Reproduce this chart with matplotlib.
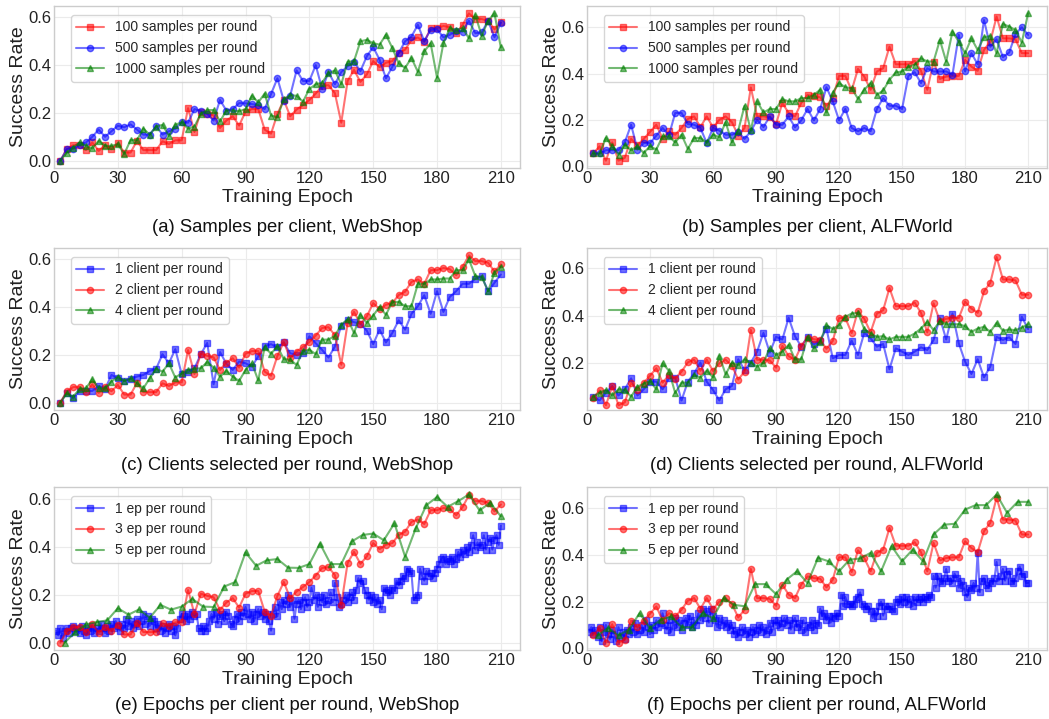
import numpy as np
import matplotlib.pyplot as plt

plt.style.use('seaborn-v0_8-whitegrid')
plt.rcParams['font.family'] = ['Liberation Sans', 'DejaVu Sans']

epochs3 = np.arange(3, 211, 3)
epochs1 = np.arange(1, 211)
epochs5 = np.arange(5, 211, 5)

# shared baseline runs (100 samples / 2 clients / 3 ep)
webshop_base = [0.0, 0.048, 0.065, 0.065, 0.044, 0.076, 0.041, 0.065, 0.048, 0.074,
                0.034, 0.034, 0.083, 0.044, 0.044, 0.044, 0.081, 0.07, 0.085, 0.085,
                0.22, 0.12, 0.205, 0.196, 0.19, 0.137, 0.168, 0.186, 0.147, 0.205,
                0.216, 0.216, 0.13, 0.113, 0.196, 0.254, 0.186, 0.214, 0.233, 0.254,
                0.281, 0.313, 0.316, 0.283, 0.159, 0.334, 0.38, 0.33, 0.361, 0.417,
                0.392, 0.41, 0.417, 0.451, 0.465, 0.506, 0.516, 0.497, 0.555, 0.555,
                0.564, 0.559, 0.534, 0.568, 0.617, 0.593, 0.593, 0.586, 0.55, 0.579]
alfworld_base = [0.055, 0.086, 0.024, 0.103, 0.024, 0.036, 0.118, 0.09, 0.118, 0.148,
                 0.179, 0.119, 0.15, 0.136, 0.165, 0.204, 0.215, 0.169, 0.215, 0.168,
                 0.2, 0.215, 0.19, 0.132, 0.165, 0.34, 0.215, 0.215, 0.212, 0.182,
                 0.273, 0.23, 0.215, 0.273, 0.308, 0.301, 0.298, 0.261, 0.294, 0.39,
                 0.39, 0.327, 0.42, 0.387, 0.33, 0.409, 0.423, 0.516, 0.44, 0.44,
                 0.44, 0.455, 0.412, 0.33, 0.452, 0.377, 0.387, 0.39, 0.39, 0.459,
                 0.43, 0.412, 0.502, 0.538, 0.646, 0.552, 0.552, 0.548, 0.488, 0.488]

# (a) / (b) samples per round
ws_500 = [0.0, 0.048, 0.05, 0.065, 0.076, 0.1, 0.13, 0.1, 0.123, 0.146,
          0.14, 0.152, 0.13, 0.109, 0.109, 0.145, 0.109, 0.123, 0.134, 0.161,
          0.159, 0.216, 0.208, 0.196, 0.168, 0.254, 0.21, 0.216, 0.241, 0.24,
          0.237, 0.233, 0.216, 0.279, 0.345, 0.251, 0.272, 0.378, 0.334, 0.334,
          0.4, 0.3, 0.371, 0.32, 0.371, 0.396, 0.414, 0.375, 0.437, 0.476,
          0.423, 0.345, 0.393, 0.451, 0.5, 0.52, 0.569, 0.5, 0.548, 0.55,
          0.517, 0.527, 0.545, 0.541, 0.586, 0.534, 0.537, 0.586, 0.517, 0.578]
ws_1000 = [0.0, 0.034, 0.055, 0.076, 0.062, 0.051, 0.083, 0.062, 0.062, 0.069,
           0.028, 0.086, 0.086, 0.134, 0.109, 0.143, 0.15, 0.103, 0.15, 0.161,
           0.134, 0.143, 0.196, 0.212, 0.212, 0.164, 0.21, 0.21, 0.207, 0.216,
           0.272, 0.244, 0.281, 0.189, 0.182, 0.258, 0.274, 0.272, 0.247, 0.3,
           0.32, 0.327, 0.366, 0.378, 0.32, 0.414, 0.417, 0.5, 0.506, 0.492,
           0.486, 0.527, 0.472, 0.407, 0.389, 0.43, 0.372, 0.458, 0.492, 0.348,
           0.492, 0.555, 0.548, 0.555, 0.513, 0.61, 0.523, 0.586, 0.617, 0.474]
af_500 = [0.055, 0.055, 0.069, 0.069, 0.069, 0.103, 0.179, 0.072, 0.1, 0.1,
          0.132, 0.165, 0.133, 0.23, 0.23, 0.182, 0.179, 0.165, 0.1, 0.165,
          0.154, 0.136, 0.136, 0.146, 0.118, 0.151, 0.2, 0.169, 0.215, 0.179,
          0.179, 0.215, 0.168, 0.198, 0.247, 0.198, 0.247, 0.341, 0.28, 0.198,
          0.248, 0.165, 0.151, 0.165, 0.151, 0.247, 0.294, 0.261, 0.261, 0.247,
          0.39, 0.406, 0.359, 0.423, 0.409, 0.409, 0.409, 0.395, 0.567, 0.409,
          0.488, 0.44, 0.631, 0.516, 0.548, 0.471, 0.491, 0.571, 0.6, 0.567]
af_1000 = [0.055, 0.055, 0.122, 0.086, 0.05, 0.093, 0.069, 0.086, 0.057, 0.086,
           0.072, 0.129, 0.129, 0.103, 0.136, 0.075, 0.122, 0.122, 0.103, 0.136,
           0.126, 0.19, 0.103, 0.154, 0.261, 0.155, 0.28, 0.232, 0.247, 0.247,
           0.29, 0.28, 0.28, 0.294, 0.294, 0.308, 0.33, 0.232, 0.318, 0.359,
           0.341, 0.337, 0.291, 0.33, 0.359, 0.308, 0.327, 0.373, 0.405, 0.409,
           0.43, 0.438, 0.466, 0.452, 0.452, 0.545, 0.452, 0.581, 0.538, 0.488,
           0.552, 0.502, 0.557, 0.562, 0.488, 0.614, 0.603, 0.588, 0.534, 0.66]

# (c) / (d) clients per round
ws_1client = [0.0, 0.042, 0.018, 0.05, 0.049, 0.049, 0.07, 0.057, 0.116, 0.102,
              0.091, 0.1, 0.109, 0.116, 0.133, 0.142, 0.203, 0.165, 0.224, 0.119,
              0.128, 0.144, 0.203, 0.25, 0.077, 0.212, 0.163, 0.137, 0.172, 0.165,
              0.151, 0.194, 0.236, 0.245, 0.231, 0.252, 0.207, 0.2, 0.207, 0.278,
              0.249, 0.221, 0.189, 0.235, 0.323, 0.348, 0.337, 0.331, 0.302, 0.245,
              0.306, 0.252, 0.292, 0.345, 0.306, 0.372, 0.404, 0.45, 0.372, 0.467,
              0.38, 0.443, 0.467, 0.498, 0.498, 0.519, 0.53, 0.467, 0.502, 0.537]
ws_4client = [0.0, 0.039, 0.025, 0.057, 0.06, 0.098, 0.06, 0.06, 0.088, 0.109,
              0.091, 0.102, 0.081, 0.06, 0.102, 0.142, 0.13, 0.165, 0.105, 0.123,
              0.137, 0.142, 0.144, 0.17, 0.147, 0.109, 0.133, 0.109, 0.091, 0.137,
              0.165, 0.093, 0.233, 0.205, 0.236, 0.182, 0.18, 0.158, 0.217, 0.222,
              0.203, 0.264, 0.264, 0.28, 0.326, 0.35, 0.292, 0.368, 0.334, 0.365,
              0.401, 0.368, 0.422, 0.422, 0.404, 0.404, 0.498, 0.498, 0.516, 0.516,
              0.52, 0.52, 0.555, 0.555, 0.6, 0.53, 0.527, 0.467, 0.544, 0.57]
af_1client = [0.06, 0.044, 0.077, 0.105, 0.065, 0.091, 0.137, 0.065, 0.091, 0.123,
              0.123, 0.091, 0.137, 0.14, 0.044, 0.123, 0.158, 0.203, 0.123, 0.088,
              0.044, 0.091, 0.105, 0.217, 0.172, 0.203, 0.249, 0.328, 0.245, 0.311,
              0.3, 0.391, 0.314, 0.27, 0.311, 0.279, 0.295, 0.346, 0.221, 0.235,
              0.235, 0.295, 0.235, 0.328, 0.305, 0.27, 0.281, 0.175, 0.263, 0.249,
              0.235, 0.249, 0.267, 0.256, 0.298, 0.391, 0.3, 0.409, 0.284, 0.207,
              0.155, 0.217, 0.141, 0.186, 0.311, 0.298, 0.309, 0.281, 0.395, 0.344]
af_4client = [0.06, 0.077, 0.088, 0.065, 0.091, 0.088, 0.06, 0.102, 0.114, 0.126,
              0.091, 0.2, 0.169, 0.075, 0.119, 0.119, 0.151, 0.14, 0.169, 0.141,
              0.231, 0.154, 0.203, 0.193, 0.217, 0.203, 0.186, 0.203, 0.263, 0.235,
              0.249, 0.277, 0.217, 0.217, 0.311, 0.263, 0.291, 0.36, 0.344, 0.36,
              0.395, 0.409, 0.412, 0.344, 0.325, 0.311, 0.314, 0.3, 0.311, 0.311,
              0.311, 0.325, 0.346, 0.374, 0.339, 0.378, 0.364, 0.364, 0.364, 0.356,
              0.332, 0.346, 0.353, 0.332, 0.37, 0.337, 0.342, 0.339, 0.35, 0.364]

# (e) / (f) local epochs per round
ws_1ep = [0.05, 0.03, 0.06, 0.02, 0.05, 0.06, 0.04, 0.06, 0.07, 0.05,
          0.06, 0.04, 0.07, 0.05, 0.03, 0.06, 0.05, 0.07, 0.04, 0.06,
          0.05, 0.08, 0.06, 0.04, 0.07, 0.05, 0.08, 0.06, 0.09, 0.07,
          0.05, 0.08, 0.06, 0.10, 0.07, 0.09, 0.06, 0.08, 0.10, 0.07,
          0.09, 0.12, 0.08, 0.11, 0.07, 0.10, 0.09, 0.06, 0.08, 0.05,
          0.07, 0.04, 0.06, 0.08, 0.05, 0.07, 0.03, 0.06, 0.10, 0.12,
          0.11, 0.09, 0.12, 0.10, 0.13, 0.11, 0.12, 0.06, 0.05, 0.07,
          0.05, 0.06, 0.09, 0.12, 0.10, 0.13, 0.08, 0.11, 0.12, 0.09,
          0.13, 0.11, 0.08, 0.07, 0.10, 0.12, 0.09, 0.13, 0.11, 0.15,
          0.12, 0.10, 0.13, 0.09, 0.12, 0.14, 0.11, 0.13, 0.10, 0.12,
          0.09, 0.05, 0.12, 0.15, 0.11, 0.17, 0.14, 0.18, 0.16, 0.20,
          0.15, 0.18, 0.10, 0.16, 0.18, 0.14, 0.17, 0.19, 0.15, 0.17,
          0.23, 0.18, 0.20, 0.15, 0.19, 0.17, 0.20, 0.16, 0.18, 0.21,
          0.17, 0.25, 0.19, 0.15, 0.16, 0.18, 0.20, 0.17, 0.19, 0.21,
          0.18, 0.22, 0.27, 0.25, 0.26, 0.22, 0.20, 0.18, 0.20, 0.17,
          0.19, 0.16, 0.18, 0.14, 0.23, 0.21, 0.22, 0.20, 0.23, 0.22,
          0.26, 0.24, 0.26, 0.28, 0.27, 0.31, 0.30, 0.29, 0.18, 0.19,
          0.20, 0.31, 0.28, 0.26, 0.30, 0.28, 0.29, 0.27, 0.29, 0.31,
          0.33, 0.35, 0.36, 0.33, 0.35, 0.34, 0.36, 0.33, 0.35, 0.38,
          0.36, 0.39, 0.37, 0.40, 0.38, 0.41, 0.45, 0.39, 0.42, 0.40,
          0.41, 0.45, 0.39, 0.42, 0.44, 0.39, 0.43, 0.45, 0.41, 0.49]
ws_5ep = [0.0, 0.044, 0.076, 0.086, 0.093, 0.144, 0.117, 0.139, 0.104, 0.158,
          0.138, 0.151, 0.183, 0.151, 0.149, 0.235, 0.253, 0.378, 0.322, 0.345,
          0.35, 0.314, 0.313, 0.329, 0.415, 0.329, 0.329, 0.424, 0.451, 0.457,
          0.429, 0.5, 0.36, 0.479, 0.576, 0.61, 0.569, 0.593, 0.621, 0.554,
          0.586, 0.529]
af_1ep = [0.07, 0.09, 0.06, 0.08, 0.05, 0.09, 0.03, 0.07, 0.10, 0.06,
          0.04, 0.08, 0.06, 0.03, 0.09, 0.05, 0.07, 0.04, 0.08, 0.06,
          0.09, 0.07, 0.11, 0.06, 0.08, 0.10, 0.07, 0.12, 0.09, 0.06,
          0.10, 0.08, 0.12, 0.09, 0.11, 0.15, 0.10, 0.08, 0.12, 0.07,
          0.10, 0.13, 0.09, 0.12, 0.08, 0.11, 0.13, 0.10, 0.14, 0.09,
          0.12, 0.10, 0.15, 0.12, 0.17, 0.13, 0.16, 0.11, 0.17, 0.14,
          0.12, 0.09, 0.13, 0.10, 0.12, 0.09, 0.11, 0.08, 0.10, 0.06,
          0.08, 0.05, 0.07, 0.09, 0.06, 0.08, 0.05, 0.07, 0.09, 0.06,
          0.08, 0.10, 0.07, 0.09, 0.06, 0.08, 0.11, 0.07, 0.12, 0.10,
          0.12, 0.09, 0.11, 0.13, 0.10, 0.12, 0.08, 0.11, 0.13, 0.09,
          0.11, 0.08, 0.12, 0.07, 0.10, 0.09, 0.12, 0.08, 0.11, 0.10,
          0.17, 0.14, 0.15, 0.12, 0.14, 0.11, 0.14, 0.13, 0.15, 0.14,
          0.23, 0.18, 0.22, 0.19, 0.19, 0.18, 0.19, 0.21, 0.22, 0.24,
          0.19, 0.18, 0.17, 0.18, 0.16, 0.13, 0.16, 0.14, 0.18, 0.20,
          0.14, 0.18, 0.17, 0.18, 0.17, 0.16, 0.20, 0.21, 0.19, 0.22,
          0.20, 0.22, 0.19, 0.21, 0.18, 0.22, 0.20, 0.21, 0.22, 0.20,
          0.22, 0.21, 0.23, 0.22, 0.31, 0.26, 0.31, 0.29, 0.28, 0.30,
          0.34, 0.29, 0.30, 0.28, 0.32, 0.30, 0.26, 0.29, 0.27, 0.24,
          0.22, 0.26, 0.25, 0.28, 0.26, 0.41, 0.24, 0.29, 0.30, 0.27,
          0.26, 0.29, 0.28, 0.30, 0.37, 0.29, 0.31, 0.34, 0.29, 0.32,
          0.33, 0.29, 0.28, 0.30, 0.33, 0.35, 0.31, 0.32, 0.28, 0.28]
af_5ep = [0.055, 0.086, 0.055, 0.08, 0.15, 0.086, 0.122, 0.136, 0.09, 0.09,
          0.15, 0.129, 0.215, 0.186, 0.18, 0.275, 0.275, 0.232, 0.294, 0.33,
          0.28, 0.388, 0.373, 0.33, 0.38, 0.385, 0.409, 0.33, 0.438, 0.373,
          0.423, 0.373, 0.488, 0.53, 0.534, 0.595, 0.614, 0.614, 0.66, 0.581,
          0.628, 0.628]

W, H = 1049, 719
fig = plt.figure(figsize=(W / 100, H / 100), dpi=100)


def add_ax(left, top, right, bottom):
    return fig.add_axes([left / W, 1 - bottom / H, (right - left) / W, (bottom - top) / H])


def draw(ax, series, caption, cap_y, yticks=(0.0, 0.2, 0.4, 0.6), ylim=None):
    for x, y, color, marker, label in series:
        ax.plot(x, y, color=color, marker=marker, ms=4.5, lw=1.5, alpha=0.55, label=label)
    ax.set_xticks(np.arange(0, 211, 30))
    ax.set_yticks(list(yticks))
    ax.set_xlim(0, 219)
    if ylim is not None:
        ax.set_ylim(*ylim)
    ax.tick_params(labelsize=12, colors='#222222', pad=2)
    ax.grid(color='#ebebeb', lw=0.8)
    for sp in ax.spines.values():
        sp.set_color('#cccccc')
    ax.set_xlabel('Training Epoch', fontsize=14, color='#222222', labelpad=2)
    ax.set_ylabel('Success Rate', fontsize=14, color='#222222', labelpad=1)
    pos = ax.get_position()
    leg = ax.legend(loc='upper left', bbox_to_anchor=(0.036, 0.945), borderaxespad=0,
                    fontsize=10, frameon=True, fancybox=True)
    leg.get_frame().set_edgecolor('#cccccc')
    fig.text(pos.x0 + pos.width / 2, 1 - cap_y / H, caption, ha='center', va='center',
             fontsize=13.3, color='#111111')


rows = [(6, 168), (248, 410), (487, 650)]
cols = [(54, 520), (587, 1047)]
cap_ys = [228, 465, 705]

ax = add_ax(cols[0][0], rows[0][0], cols[0][1], rows[0][1])
draw(ax, [(epochs3, webshop_base, 'red', 's', '100 samples per round'),
          (epochs3, ws_500, 'blue', 'o', '500 samples per round'),
          (epochs3, ws_1000, 'green', '^', '1000 samples per round')],
     '(a) Samples per client, WebShop', cap_ys[0])

ax = add_ax(cols[1][0], rows[0][0], cols[1][1], rows[0][1])
draw(ax, [(epochs3, alfworld_base, 'red', 's', '100 samples per round'),
          (epochs3, af_500, 'blue', 'o', '500 samples per round'),
          (epochs3, af_1000, 'green', '^', '1000 samples per round')],
     '(b) Samples per client, ALFWorld', cap_ys[0])

ax = add_ax(cols[0][0], rows[1][0], cols[0][1], rows[1][1])
draw(ax, [(epochs3, ws_1client, 'blue', 's', '1 client per round'),
          (epochs3, webshop_base, 'red', 'o', '2 client per round'),
          (epochs3, ws_4client, 'green', '^', '4 client per round')],
     '(c) Clients selected per round, WebShop', cap_ys[1])

ax = add_ax(cols[1][0], rows[1][0], cols[1][1], rows[1][1])
draw(ax, [(epochs3, af_1client, 'blue', 's', '1 client per round'),
          (epochs3, alfworld_base, 'red', 'o', '2 client per round'),
          (epochs3, af_4client, 'green', '^', '4 client per round')],
     '(d) Clients selected per round, ALFWorld', cap_ys[1],
     yticks=(0.2, 0.4, 0.6), ylim=(0.004, 0.684))

ax = add_ax(cols[0][0], rows[2][0], cols[0][1], rows[2][1])
draw(ax, [(epochs1, ws_1ep, 'blue', 's', '1 ep per round'),
          (epochs3, webshop_base, 'red', 'o', '3 ep per round'),
          (epochs5, ws_5ep, 'green', '^', '5 ep per round')],
     '(e) Epochs per client per round, WebShop', cap_ys[2])

ax = add_ax(cols[1][0], rows[2][0], cols[1][1], rows[2][1])
draw(ax, [(epochs1, af_1ep, 'blue', 's', '1 ep per round'),
          (epochs3, alfworld_base, 'red', 'o', '3 ep per round'),
          (epochs5, af_5ep, 'green', '^', '5 ep per round')],
     '(f) Epochs per client per round, ALFWorld', cap_ys[2])

fig.savefig('out.png', dpi=100)
